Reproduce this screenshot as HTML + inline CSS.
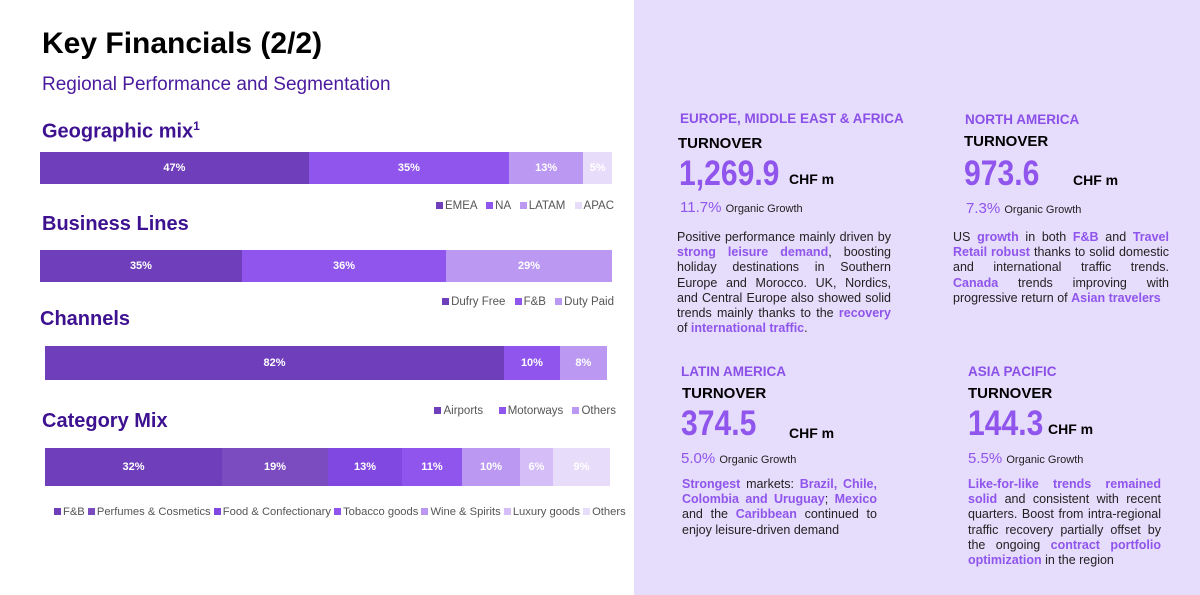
<!DOCTYPE html>
<html><head><meta charset="utf-8"><style>
*{margin:0;padding:0;box-sizing:border-box}
body{width:1200px;height:595px;position:relative;background:#fff;font-family:"Liberation Sans",Arial,sans-serif;overflow:hidden}
.a{position:absolute;white-space:nowrap}
.panel{position:absolute;left:634px;top:0;width:566px;height:595px;background:#e6dcfb}
.h{font-size:20px;font-weight:bold;color:#3d1190}
.bar{position:absolute;display:flex;height:32px}
.bar div{height:100%;color:#fff;font-size:11px;font-weight:bold;display:flex;align-items:center;justify-content:center}
.lg{font-size:11.5px;color:#555}
.lg i{display:inline-block;width:7px;height:7px;margin-right:2px;margin-left:6px}
.rh{font-size:13.5px;font-weight:bold;color:#8a50e8}
.t{font-size:15px;font-weight:bold;color:#000}
.n{font-size:35px;font-weight:bold;color:#8f55ec;transform:scaleX(0.86);transform-origin:left top}
.c{font-size:14px;font-weight:bold;color:#000}
.g{font-size:15px;color:#8f55ec}
.g span{font-size:11px;color:#222}
.p{position:absolute;font-size:12.5px;line-height:15.2px;color:#222;text-align:justify;white-space:normal}
.p b{color:#8f55ec}
</style></head><body>
<div class="panel"></div>
<div class="a" style="left:42px;top:27px;font-size:30px;font-weight:bold;color:#000">Key Financials (2/2)</div>
<div class="a" style="left:42px;top:74px;font-size:19px;color:#4a1a9e">Regional Performance and Segmentation</div>

<div class="a h" style="left:42px;top:119px">Geographic mix<sup style="font-size:12px">1</sup></div>
<div class="bar" style="left:40px;top:152px;width:572px"><div style="width:47%;background:#6f3fbb">47%</div><div style="width:35%;background:#8f55ec">35%</div><div style="width:13%;background:#bb99f2">13%</div><div style="width:5%;background:#e8dcfb">5%</div></div>
<div class="a lg" style="right:586px;top:200px"><i style="background:#6f3fbb"></i>EMEA <i style="background:#8f55ec"></i>NA <i style="background:#bb99f2"></i>LATAM <i style="background:#e8dcfb"></i>APAC</div>

<div class="a h" style="left:42px;top:213px">Business Lines</div>
<div class="bar" style="left:40px;top:250px;width:572px"><div style="width:35.3%;background:#6f3fbb">35%</div><div style="width:35.7%;background:#8f55ec">36%</div><div style="width:29%;background:#bb99f2">29%</div></div>
<div class="a lg" style="right:586px;top:296px"><i style="background:#6f3fbb"></i>Dufry Free <i style="background:#8f55ec"></i>F&amp;B <i style="background:#bb99f2"></i>Duty Paid</div>

<div class="a h" style="left:40px;top:308px">Channels</div>
<div class="bar" style="left:45px;top:346px;width:562px;height:34px"><div style="width:81.7%;background:#6f3fbb">82%</div><div style="width:9.9%;background:#8f55ec">10%</div><div style="width:8.4%;background:#bb99f2">8%</div></div>
<div class="a lg" style="right:584px;top:405px"><i style="background:#6f3fbb"></i>Airports &nbsp;&nbsp;<i style="background:#8f55ec"></i>Motorways <i style="background:#bb99f2"></i>Others</div>

<div class="a h" style="left:42px;top:410px">Category Mix</div>
<div class="bar" style="left:45px;top:448px;width:565px;height:38px"><div style="width:177px;background:#6f3fbb">32%</div><div style="width:106px;background:#7a4cc0">19%</div><div style="width:74px;background:#8048e0">13%</div><div style="width:60px;background:#8f55ec">11%</div><div style="width:58px;background:#bb99f2">10%</div><div style="width:33px;background:#d5bdf7">6%</div><div style="width:57px;background:#e8dcfb">9%</div></div>
<div class="a lg" style="left:48px;top:506px;font-size:11.2px"><i style="background:#6f3fbb"></i>F&amp;B <i style="background:#7a4cc0;margin-left:0"></i>Perfumes &amp; Cosmetics <i style="background:#8048e0;margin-left:0"></i>Food &amp; Confectionary <i style="background:#8f55ec;margin-left:0"></i>Tobacco goods <i style="background:#bb99f2;margin-left:0"></i>Wine &amp; Spirits <i style="background:#d5bdf7;margin-left:0"></i>Luxury goods <i style="background:#e8dcfb;margin-left:0"></i>Others</div>

<!-- EMEA -->
<div class="a rh" style="left:680px;top:111px">EUROPE, MIDDLE EAST &amp; AFRICA</div>
<div class="a t" style="left:678px;top:135px">TURNOVER</div>
<div class="a n" style="left:679px;top:154px">1,269.9</div>
<div class="a c" style="left:789px;top:171px">CHF m</div>
<div class="a g" style="left:680px;top:199px">11.7% <span>Organic Growth</span></div>
<div class="p" style="left:677px;top:230px;width:214px">Positive performance mainly driven by <b>strong leisure demand</b>, boosting holiday destinations in Southern Europe and Morocco. UK, Nordics, and Central Europe also showed solid trends mainly thanks to the <b>recovery</b> of <b>international traffic</b>.</div>

<!-- NA -->
<div class="a rh" style="left:965px;top:112px">NORTH AMERICA</div>
<div class="a t" style="left:964px;top:133px">TURNOVER</div>
<div class="a n" style="left:964px;top:154px">973.6</div>
<div class="a c" style="left:1073px;top:172px">CHF m</div>
<div class="a g" style="left:966px;top:200px">7.3% <span>Organic Growth</span></div>
<div class="p" style="left:953px;top:230px;width:216px">US <b>growth</b> in both <b>F&amp;B</b> and <b>Travel Retail robust</b> thanks to solid domestic and international traffic trends. <b>Canada</b> trends improving with progressive return of <b>Asian travelers</b></div>

<!-- LATAM -->
<div class="a rh" style="left:681px;top:364px">LATIN AMERICA</div>
<div class="a t" style="left:682px;top:385px">TURNOVER</div>
<div class="a n" style="left:681px;top:404px">374.5</div>
<div class="a c" style="left:789px;top:425px">CHF m</div>
<div class="a g" style="left:681px;top:450px">5.0% <span>Organic Growth</span></div>
<div class="p" style="left:682px;top:477px;width:195px"><b>Strongest</b> markets: <b>Brazil, Chile, Colombia and Uruguay</b>; <b>Mexico</b> and the <b>Caribbean</b> continued to enjoy leisure-driven demand</div>

<!-- APAC -->
<div class="a rh" style="left:968px;top:364px">ASIA PACIFIC</div>
<div class="a t" style="left:968px;top:385px">TURNOVER</div>
<div class="a n" style="left:968px;top:404px">144.3</div>
<div class="a c" style="left:1048px;top:421px">CHF m</div>
<div class="a g" style="left:968px;top:450px">5.5% <span>Organic Growth</span></div>
<div class="p" style="left:968px;top:477px;width:193px"><b>Like-for-like trends remained solid</b> and consistent with recent quarters. Boost from intra-regional traffic recovery partially offset by the ongoing <b>contract portfolio optimization</b> in the region</div>
</body></html>
